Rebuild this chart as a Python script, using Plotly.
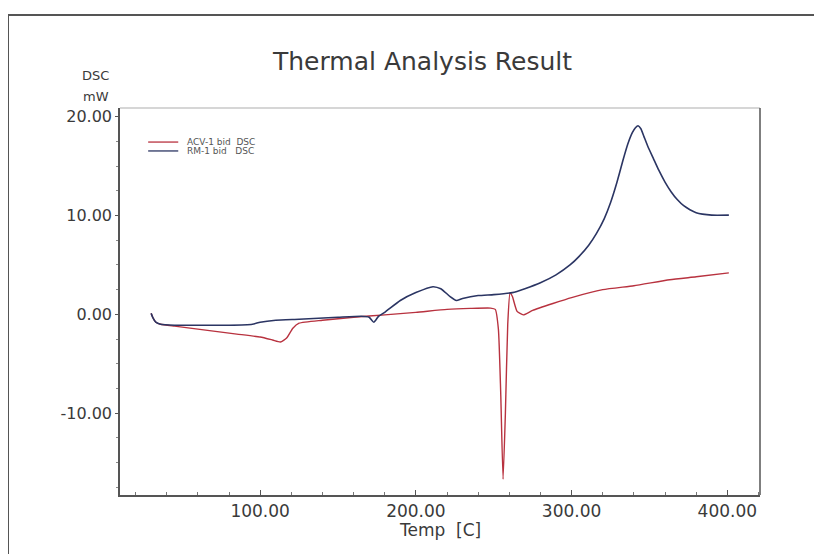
import plotly.graph_objects as go

# ---- data ----
acv_name = "ACV-1 bid  DSC"
rm_name = "RM-1 bid   DSC"

acv_temp = [30, 31, 33, 36, 45, 60, 70, 85, 100, 108, 113, 117, 121, 125, 140, 160, 180, 200,
            220, 235, 248, 251, 253, 254.5, 256, 257.5, 259, 260.5, 262, 265, 269, 275, 288,
            300, 320, 340, 363, 380, 401]
acv_dsc = [0.1, -0.3, -0.8, -1.0, -1.2, -1.5, -1.7, -2.0, -2.3, -2.6, -2.8, -2.4, -1.4, -0.9,
           -0.6, -0.3, -0.05, 0.2, 0.5, 0.6, 0.63, 0.5, -1.5, -8.0, -16.7, -10.0, -1.0, 2.2,
           1.8, 0.3, -0.05, 0.4, 1.1, 1.7, 2.5, 2.9, 3.5, 3.8, 4.2]

rm_temp = [30, 31, 33, 36, 45, 60, 80, 95, 100, 110, 125, 150, 165, 170, 173, 176, 180, 190,
           200, 211, 216, 222, 226, 230, 240, 250, 262, 270, 280, 290, 299, 305, 311, 316,
           321, 325, 329, 333, 336, 339, 341, 342.7, 344.5, 346.5, 349, 352.5, 356, 360, 364,
           368, 372, 376, 380, 384, 390, 401]
rm_dsc = [0.1, -0.3, -0.8, -1.0, -1.1, -1.1, -1.1, -1.0, -0.8, -0.6, -0.5, -0.3, -0.2, -0.3,
          -0.8, -0.2, 0.2, 1.4, 2.2, 2.8, 2.6, 1.8, 1.4, 1.6, 1.9, 2.0, 2.2, 2.6, 3.2, 4.0,
          5.0, 5.9, 7.0, 8.2, 9.7, 11.3, 13.3, 15.6, 17.2, 18.4, 18.9, 19.1, 18.8, 18.0, 17.0,
          15.8, 14.6, 13.4, 12.4, 11.6, 11.0, 10.6, 10.3, 10.15, 10.05, 10.05]

x_ticks = [100, 200, 300, 400]
x_tick_text = ["100.00", "200.00", "300.00", "400.00"]
y_ticks = [-10, 0, 10, 20]
y_tick_text = ["-10.00", "0.00", "10.00", "20.00"]

FONT = "DejaVu Sans"
TXT = "#3a3a3a"
RED = "#b8323f"
BLUE = "#2b3563"

fig = go.Figure()
fig.add_trace(go.Scatter(x=acv_temp, y=acv_dsc, mode="lines", name=acv_name,
                         line=dict(color=RED, width=1.4, shape="spline", smoothing=0.5)))
fig.add_trace(go.Scatter(x=rm_temp, y=rm_dsc, mode="lines", name=rm_name,
                         line=dict(color=BLUE, width=1.6, shape="spline", smoothing=0.5)))

# page body has an 8px margin, so the figure is offset by 8px
fig.update_layout(
    width=822, height=554,
    margin=dict(l=112, r=70, t=100, b=67),
    paper_bgcolor="white", plot_bgcolor="white",
    font=dict(family=FONT, color=TXT),
    showlegend=False,
    xaxis=dict(range=[10, 421], tickvals=x_ticks, ticktext=x_tick_text,
               showgrid=False, zeroline=False, showline=True, linecolor="#555",
               linewidth=1.5, ticks="inside", ticklen=5, tickcolor="#555",
               tickfont=dict(size=17, color=TXT, family=FONT),
               minor=dict(dtick=20, tick0=0, ticks="inside", ticklen=3, tickcolor="#777")),
    yaxis=dict(range=[-18.3, 20.9], tickvals=y_ticks, ticktext=y_tick_text,
               showgrid=False, zeroline=False, showline=True, linecolor="#555",
               linewidth=1.5, ticks="outside", ticklen=3, tickcolor="#555",
               tickfont=dict(size=16, color=TXT, family=FONT),
               minor=dict(dtick=2.5, tick0=0, ticks="outside", ticklen=2, tickcolor="#888")),
)

# plot frame: light top, dark right
fig.add_shape(type="line", xref="paper", yref="paper", x0=0, x1=1, y0=1, y1=1,
              line=dict(color="#c8c8c8", width=1.5))
fig.add_shape(type="line", xref="paper", yref="paper", x0=1, x1=1, y0=0, y1=1,
              line=dict(color="#555", width=1.5))
# outer window border
fig.add_shape(type="rect", xref="paper", yref="paper", x0=-0.175, x1=1.086, y0=-0.2, y1=1.24,
              line=dict(color="#555", width=2))

# legend (drawn compactly like the instrument software)
leg_items = [(acv_name, RED, 0.912), (rm_name, BLUE, 0.889)]
for name, col, yy in leg_items:
    fig.add_shape(type="line", xref="paper", yref="paper", x0=0.044, x1=0.091, y0=yy, y1=yy,
                  line=dict(color=col, width=1.3))
    fig.add_annotation(text=name, xref="paper", yref="paper", x=0.102, y=yy,
                       xanchor="left", yanchor="middle", showarrow=False,
                       font=dict(size=9, color="#555", family=FONT))

fig.add_annotation(text="Thermal Analysis Result", xref="paper", yref="paper",
                   x=0.472, y=1.119, xanchor="center", yanchor="middle", showarrow=False,
                   font=dict(size=25, color=TXT, family=FONT))
fig.add_annotation(text="DSC", xref="paper", yref="paper", x=-0.038, y=1.083,
                   xanchor="center", yanchor="middle", showarrow=False,
                   font=dict(size=13, color=TXT, family=FONT))
fig.add_annotation(text="mW", xref="paper", yref="paper", x=-0.038, y=1.031,
                   xanchor="center", yanchor="middle", showarrow=False,
                   font=dict(size=13, color=TXT, family=FONT))
fig.add_annotation(text="Temp  [C]", xref="paper", yref="paper", x=0.5, y=-0.09,
                   xanchor="center", yanchor="middle", showarrow=False,
                   font=dict(size=17, color=TXT, family=FONT))

fig.write_html("out.html")
